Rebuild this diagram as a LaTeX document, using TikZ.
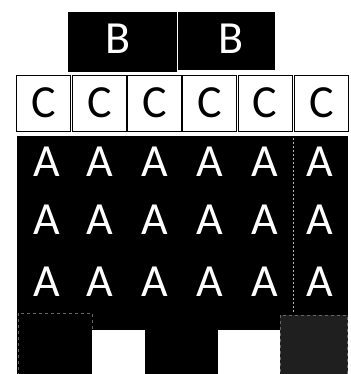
\documentclass[tikz,border=0pt]{standalone}
\usepackage{fontspec}
\setmainfont{Carlito}
\begin{document}
\begin{tikzpicture}[x=1pt,y=-1pt,
  bbox/.style={fill=black,draw=black,inner sep=0pt},
  btext/.style={text=white,font=\fontsize{46}{46}\selectfont,inner sep=0pt},
  cbox/.style={draw=black,line width=0.9pt,fill=white,minimum width=54pt,minimum height=56pt,inner sep=0pt,font=\fontsize{46}{46}\selectfont},
  atext/.style={text=white,font=\fontsize{46}{46}\selectfont,inner sep=0pt},
  gapsq/.style={fill=white,draw=none},
  darkbox/.style={draw=black!60,dashed,line width=0.4pt}]
\useasboundingbox (0,0) rectangle (350,374);
% B boxes
\fill[black] (68,12) rectangle (177,72);
\fill[black] (178,12) rectangle (275,70);
\node[btext] (b1) at (118,39) {B};
\node[btext] (b2) at (231,39) {B};
% C row
\foreach \i/\x in {1/43.5,2/99.5,3/154.5,4/209.5,5/265,6/321.5}
  \node[cbox] (c\i) at (\x,103) {C};
% A region
\fill[black] (17,136) rectangle (348,374);
\draw[white!70!black,dash pattern=on 2pt off 2pt,line width=0.6pt] (293.5,138) -- (293.5,312);
\foreach \r/\y in {1/162,2/220,3/281.5}
  \foreach \i/\x in {1/47,2/100,3/155,4/210,5/265,6/320}
    \node[atext] (a\r\i) at (\x,\y) {A};
% bottom row
\fill[black!88] (280,315) rectangle (348,374);
\draw[darkbox] (280,315) rectangle (347,374);
\draw[darkbox] (18,313) rectangle (92,374);
\fill[white] (92,330) rectangle (145,374);
\fill[white] (218,330) rectangle (280,374);
\end{tikzpicture}
\end{document}
